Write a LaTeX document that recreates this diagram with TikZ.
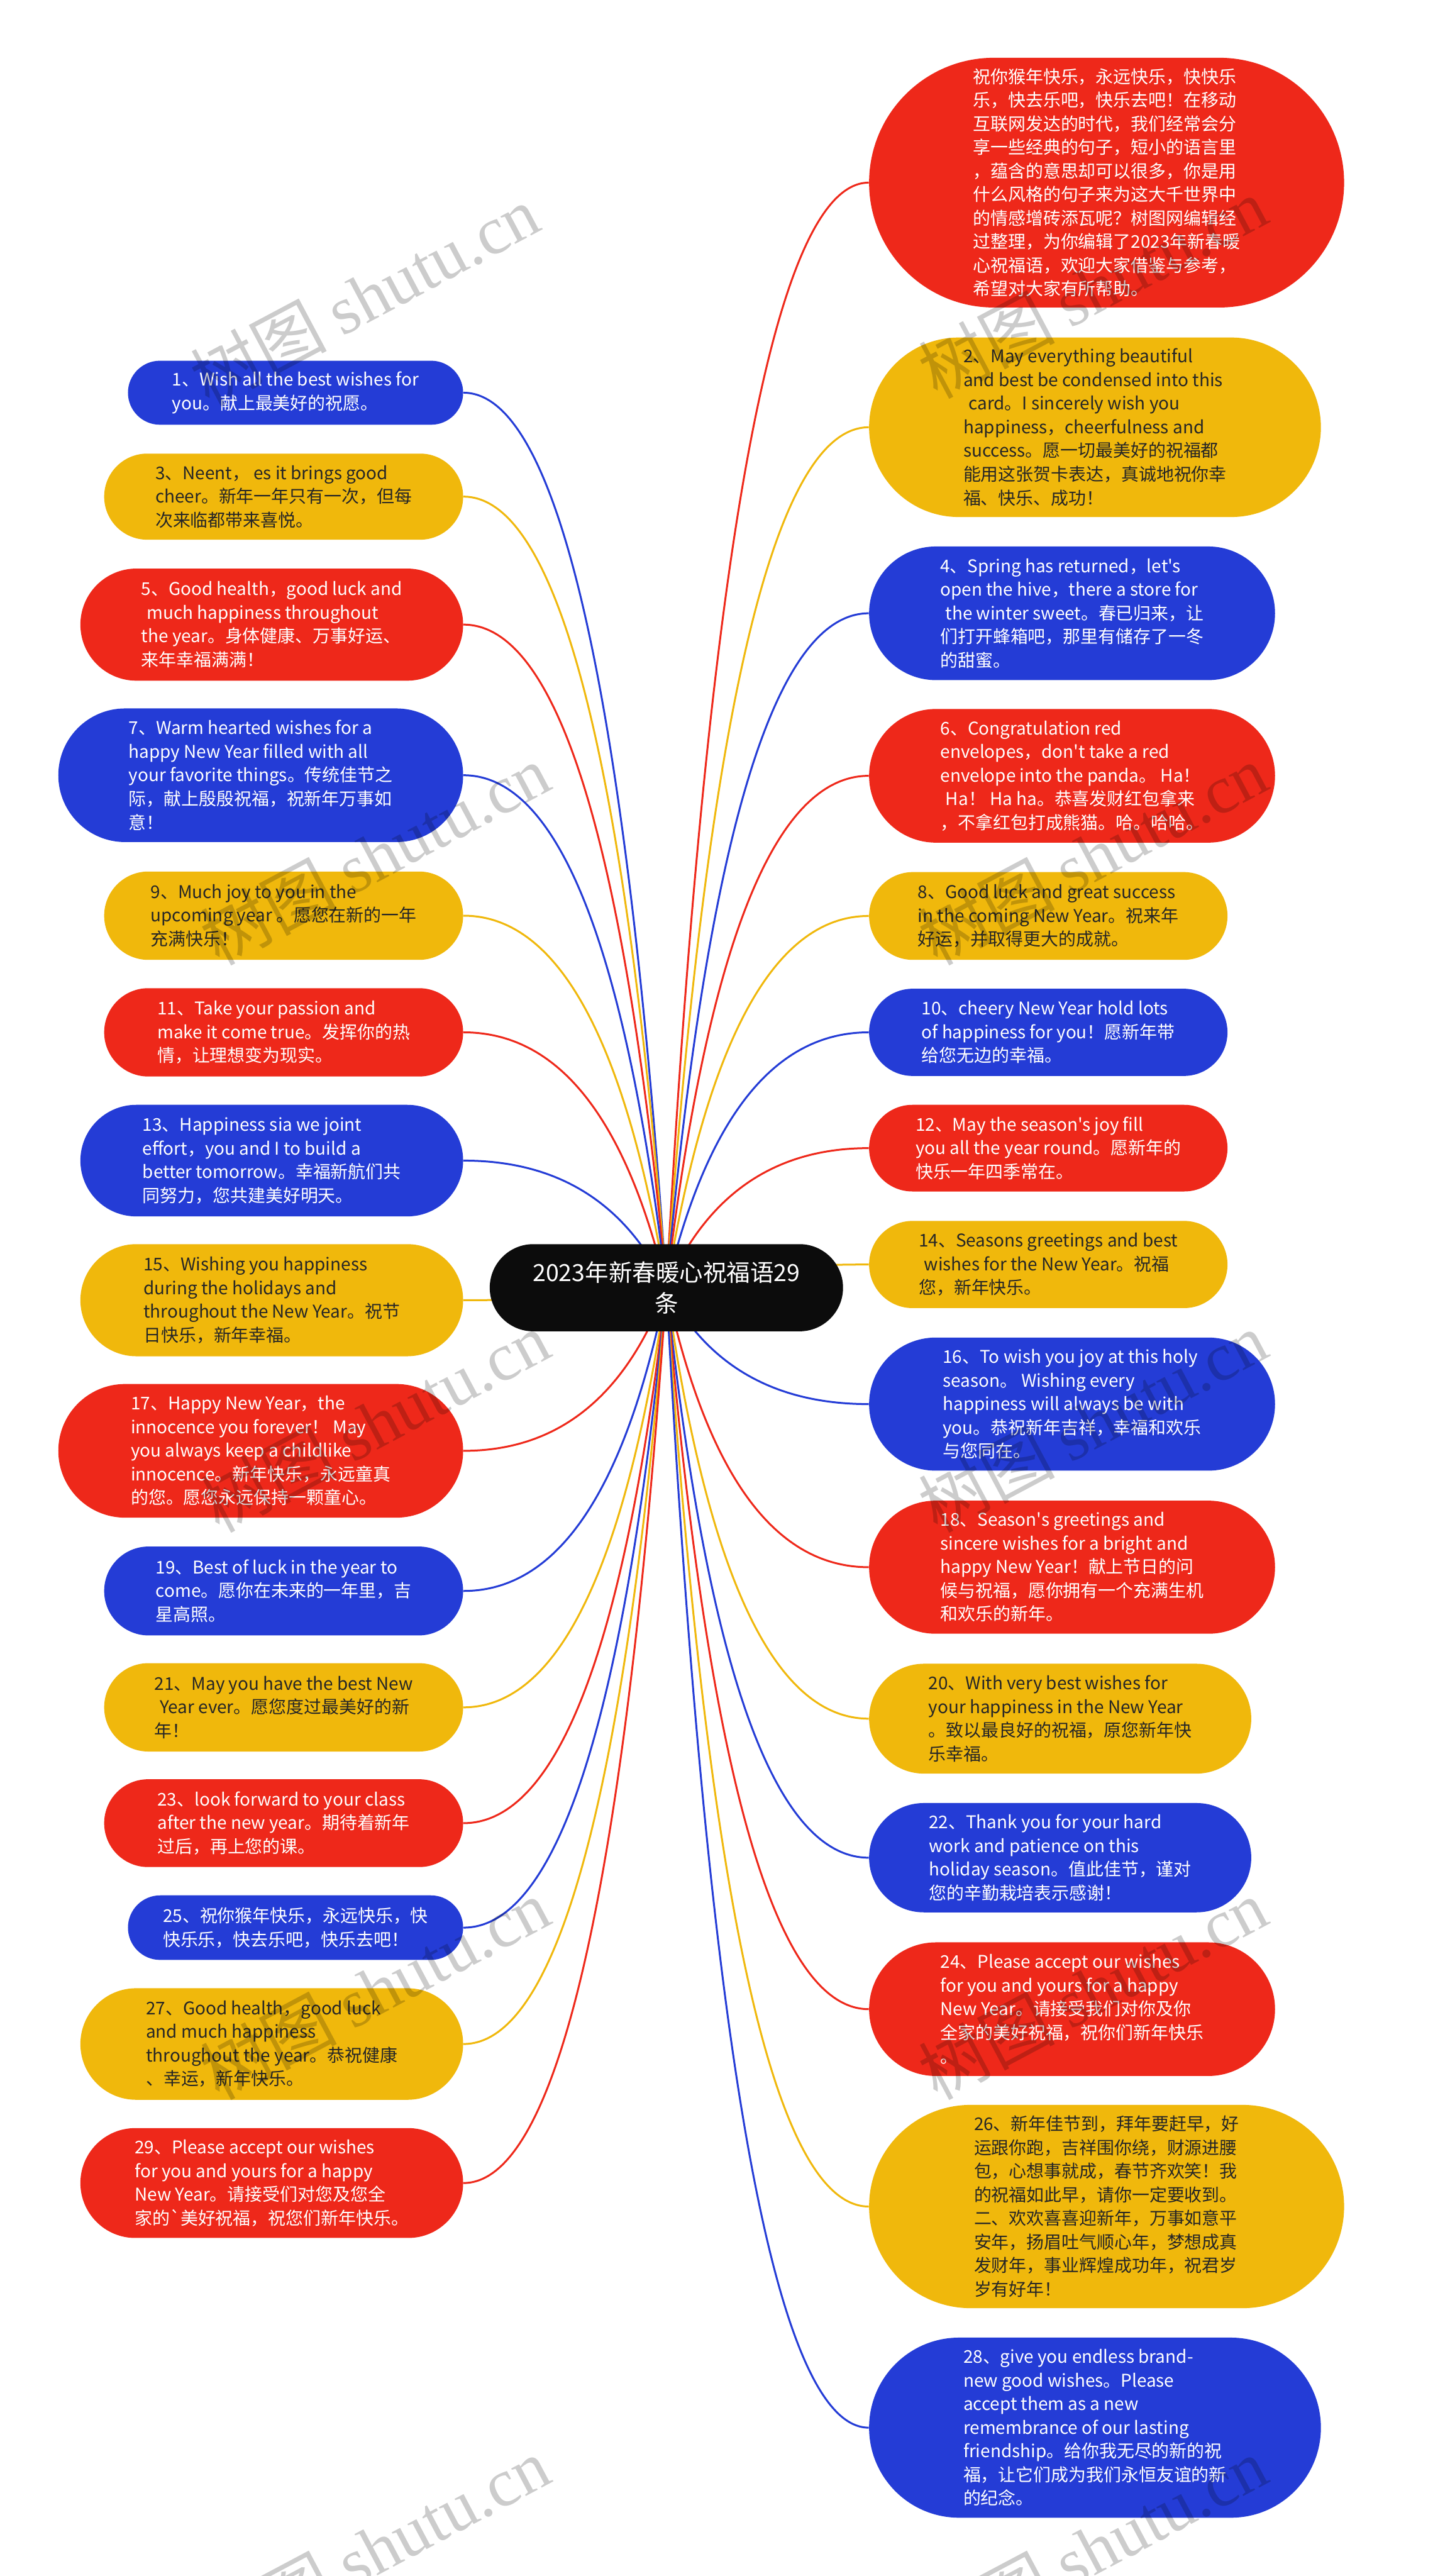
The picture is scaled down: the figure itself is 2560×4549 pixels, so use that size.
\documentclass[tikz,border=0pt]{standalone}
\usepackage{fontspec}
\setmainfont{Noto Sans CJK SC}
\newfontfamily\cjkfont{Noto Sans CJK SC}
\newfontfamily\wmserif{Liberation Serif}
\usetikzlibrary{calc}
\definecolor{cblue}{HTML}{243CD6}
\definecolor{cred}{HTML}{EE281A}
\definecolor{cyel}{HTML}{F0B80C}
\definecolor{ctxt}{HTML}{262626}
\definecolor{croot}{HTML}{0C0C0C}
\pgfdeclarelayer{bg}\pgfdeclarelayer{fg}\pgfsetlayers{bg,main,fg}
\tikzset{
  pbase/.style={draw=none, inner sep=0pt, align=left, font=\cjkfont\fontsize{9.3}{12.5}\selectfont},
  pblue/.style={pbase, fill=cblue, text=white},
  pred/.style={pbase, fill=cred, text=white},
  pyel/.style={pbase, fill=cyel, text=ctxt},
  rootbox/.style={draw=none, inner sep=0pt, align=center, fill=croot, text=white, font=\cjkfont\fontsize{12.5}{16.5}\selectfont},
  link/.style={line width=1pt},
  wm/.style={rotate=28, text=black, text opacity=0.2, inner sep=0pt, font=\fontsize{36}{36}\selectfont},
}
\newcommand\wishnode[7]{\node[#6, minimum width={#4*0.3pt}, minimum height={#5*0.3pt}, rounded corners={#5*0.15pt}] (#1) at (#2,#3) {#7};}
\newcommand\linkto[3]{%
  \path (root.center) -- (#1.#2) coordinate[pos=0.3] (#1t);
  \coordinate (#1q) at (#1t |- #1.#2);
  \draw[link,#3] (root.center) .. controls ($(root.center)!0.6667!(#1q)$) and ($(#1.#2)!0.6667!(#1q)$) .. (#1.#2);
}
\newcommand\lsp{\hspace*{0.3em}}
\begin{document}
\begin{tikzpicture}[x=0.3pt,y=-0.3pt]
\useasboundingbox (0,0) rectangle (2560,4549);
\begin{pgfonlayer}{bg}
\fill[white] (0,0) rectangle (2560,4549);
\end{pgfonlayer}

% root
\wishnode{root}{1177}{2274}{624}{154}{rootbox}{2023年新春暖心祝福语29\\条}

% right column
\wishnode{n0}{1954.5}{322.5}{839}{441}{pred}{祝你猴年快乐，永远快乐，快快乐\\乐，快去乐吧，快乐去吧！在移动\\互联网发达的时代，我们经常会分\\享一些经典的句子，短小的语言里\\，蕴含的意思却可以很多，你是用\\什么风格的句子来为这大千世界中\\的情感增砖添瓦呢？树图网编辑经\\过整理，为你编辑了2023年新春暖\\心祝福语，欢迎大家借鉴与参考，\\希望对大家有所帮助。}
\wishnode{n2}{1934}{754.5}{798}{317}{pyel}{2、May everything beautiful\\and best be condensed into this\\\lsp card。I sincerely wish you\\happiness，cheerfulness and\\success。愿一切最美好的祝福都\\能用这张贺卡表达，真诚地祝你幸\\福、快乐、成功！}
\wishnode{n4}{1893.5}{1083}{717}{236}{pblue}{4、Spring has returned，let's\\open the hive，there a store for\\\lsp the winter sweet。春已归来，让\\们打开蜂箱吧，那里有储存了一冬\\的甜蜜。}
\wishnode{n6}{1893.5}{1370}{717}{236}{pred}{6、Congratulation red\\envelopes，don't take a red\\envelope into the panda。 Ha！\\\lsp Ha！ Ha ha。恭喜发财红包拿来\\，不拿红包打成熊猫。哈。哈哈。}
\wishnode{n8}{1851.5}{1617.5}{633}{155}{pyel}{8、Good luck and great success\\in the coming New Year。祝来年\\好运，并取得更大的成就。}
\wishnode{n10}{1851.5}{1823}{633}{154}{pblue}{10、cheery New Year hold lots\\of happiness for you！愿新年带\\给您无边的幸福。}
\wishnode{n12}{1851.5}{2027.5}{633}{153}{pred}{12、May the season's joy fill\\you all the year round。愿新年的\\快乐一年四季常在。}
\wishnode{n14}{1851.5}{2233}{633}{154}{pyel}{14、Seasons greetings and best\\\lsp wishes for the New Year。祝福\\您，新年快乐。}
\wishnode{n16}{1893.5}{2479.5}{717}{235}{pblue}{16、To wish you joy at this holy\\season。 Wishing every\\happiness will always be with\\you。恭祝新年吉祥，幸福和欢乐\\与您同在。}
\wishnode{n18}{1893.5}{2767.5}{717}{235}{pred}{18、Season's greetings and\\sincere wishes for a bright and\\happy New Year！献上节日的问\\候与祝福，愿你拥有一个充满生机\\和欢乐的新年。}
\wishnode{n20}{1872.5}{3035}{675}{194}{pyel}{20、With very best wishes for\\your happiness in the New Year\\。致以最良好的祝福，原您新年快\\乐幸福。}
\wishnode{n22}{1872.5}{3280.5}{675}{193}{pblue}{22、Thank you for your hard\\work and patience on this\\holiday season。值此佳节，谨对\\您的辛勤栽培表示感谢！}
\wishnode{n24}{1893.5}{3548}{717}{236}{pred}{24、Please accept our wishes\\for you and yours for a happy\\New Year。请接受我们对你及你\\全家的美好祝福，祝你们新年快乐\\。}
\wishnode{n26}{1954.5}{3896.5}{839}{359}{pyel}{26、新年佳节到，拜年要赶早，好\\运跟你跑，吉祥围你绕，财源进腰\\包，心想事就成，春节齐欢笑！我\\的祝福如此早，请你一定要收到。\\二、欢欢喜喜迎新年，万事如意平\\安年，扬眉吐气顺心年，梦想成真\\发财年，事业辉煌成功年，祝君岁\\岁有好年！}
\wishnode{n28}{1934}{4287}{798}{318}{pblue}{28、give you endless brand-\\new good wishes。Please\\accept them as a new\\remembrance of our lasting\\friendship。给你我无尽的新的祝\\福，让它们成为我们永恒友谊的新\\的纪念。}

% left column
\wishnode{n1}{522}{693.5}{592}{113}{pblue}{1、Wish all the best wishes for\\you。献上最美好的祝愿。}
\wishnode{n3}{501}{877}{634}{152}{pyel}{3、Neent， es it brings good\\cheer。新年一年只有一次，但每\\次来临都带来喜悦。}
\wishnode{n5}{480}{1103}{676}{198}{pred}{5、Good health，good luck and\\\lsp much happiness throughout\\the year。身体健康、万事好运、\\来年幸福满满！}
\wishnode{n7}{460.5}{1369}{715}{236}{pblue}{7、Warm hearted wishes for a\\happy New Year filled with all\\your favorite things。传统佳节之\\际，献上殷殷祝福，祝新年万事如\\意！}
\wishnode{n9}{501}{1617}{634}{156}{pyel}{9、Much joy to you in the\\upcoming year 。愿您在新的一年\\充满快乐！}
\wishnode{n11}{501}{1823}{634}{156}{pred}{11、Take your passion and\\make it come true。发挥你的热\\情，让理想变为现实。}
\wishnode{n13}{480}{2049.5}{676}{197}{pblue}{13、Happiness sia we joint\\effort，you and I to build a\\better tomorrow。幸福新航们共\\同努力，您共建美好明天。}
\wishnode{n15}{480}{2296}{676}{198}{pyel}{15、Wishing you happiness\\during the holidays and\\throughout the New Year。祝节\\日快乐，新年幸福。}
\wishnode{n17}{460.5}{2562}{715}{236}{pred}{17、Happy New Year，the\\innocence you forever！ May\\you always keep a childlike\\innocence。新年快乐，永远童真\\的您。愿您永远保持一颗童心。}
\wishnode{n19}{501}{2809.5}{634}{157}{pblue}{19、Best of luck in the year to\\come。愿你在未来的一年里，吉\\星高照。}
\wishnode{n21}{501}{3015}{634}{156}{pyel}{21、May you have the best New\\\lsp Year ever。愿您度过最美好的新\\年！}
\wishnode{n23}{501}{3219.5}{634}{155}{pred}{23、look forward to your class\\after the new year。期待着新年\\过后，再上您的课。}
\wishnode{n25}{522}{3404}{592}{114}{pblue}{25、祝你猴年快乐，永远快乐，快\\快乐乐，快去乐吧，快乐去吧！}
\wishnode{n27}{480}{3609.5}{676}{197}{pyel}{27、Good health，good luck\\and much happiness\\throughout the year。恭祝健康\\、幸运，新年快乐。}
\wishnode{n29}{480}{3855}{676}{194}{pred}{29、Please accept our wishes\\for you and yours for a happy\\New Year。请接受们对您及您全\\家的`美好祝福，祝您们新年快乐。}

\begin{pgfonlayer}{bg}
\linkto{n0}{west}{cred}
\linkto{n2}{west}{cyel}
\linkto{n4}{west}{cblue}
\linkto{n6}{west}{cred}
\linkto{n8}{west}{cyel}
\linkto{n10}{west}{cblue}
\linkto{n12}{west}{cred}
\linkto{n14}{west}{cyel}
\linkto{n16}{west}{cblue}
\linkto{n18}{west}{cred}
\linkto{n20}{west}{cyel}
\linkto{n22}{west}{cblue}
\linkto{n24}{west}{cred}
\linkto{n26}{west}{cyel}
\linkto{n28}{west}{cblue}
\linkto{n1}{east}{cblue}
\linkto{n3}{east}{cyel}
\linkto{n5}{east}{cred}
\linkto{n7}{east}{cblue}
\linkto{n9}{east}{cyel}
\linkto{n11}{east}{cred}
\linkto{n13}{east}{cblue}
\linkto{n15}{east}{cyel}
\linkto{n17}{east}{cred}
\linkto{n19}{east}{cblue}
\linkto{n21}{east}{cyel}
\linkto{n23}{east}{cred}
\linkto{n25}{east}{cblue}
\linkto{n27}{east}{cyel}
\linkto{n29}{east}{cred}
\end{pgfonlayer}

\begin{pgfonlayer}{fg}
\node[wm] (w1) at (644,522) {树图 {\wmserif shutu.cn}};
\node[wm] (w2) at (1930,508) {树图 {\wmserif shutu.cn}};
\node[wm] (w3) at (662,1509) {树图 {\wmserif shutu.cn}};
\node[wm] (w4) at (1930,1509) {树图 {\wmserif shutu.cn}};
\node[wm] (w5) at (662,2511) {树图 {\wmserif shutu.cn}};
\node[wm] (w6) at (1930,2511) {树图 {\wmserif shutu.cn}};
\node[wm] (w7) at (662,3512) {树图 {\wmserif shutu.cn}};
\node[wm] (w8) at (1930,3512) {树图 {\wmserif shutu.cn}};
\node[wm] (w9) at (662,4499) {树图 {\wmserif shutu.cn}};
\node[wm] (w10) at (1930,4499) {树图 {\wmserif shutu.cn}};
\end{pgfonlayer}
\end{tikzpicture}
\end{document}
